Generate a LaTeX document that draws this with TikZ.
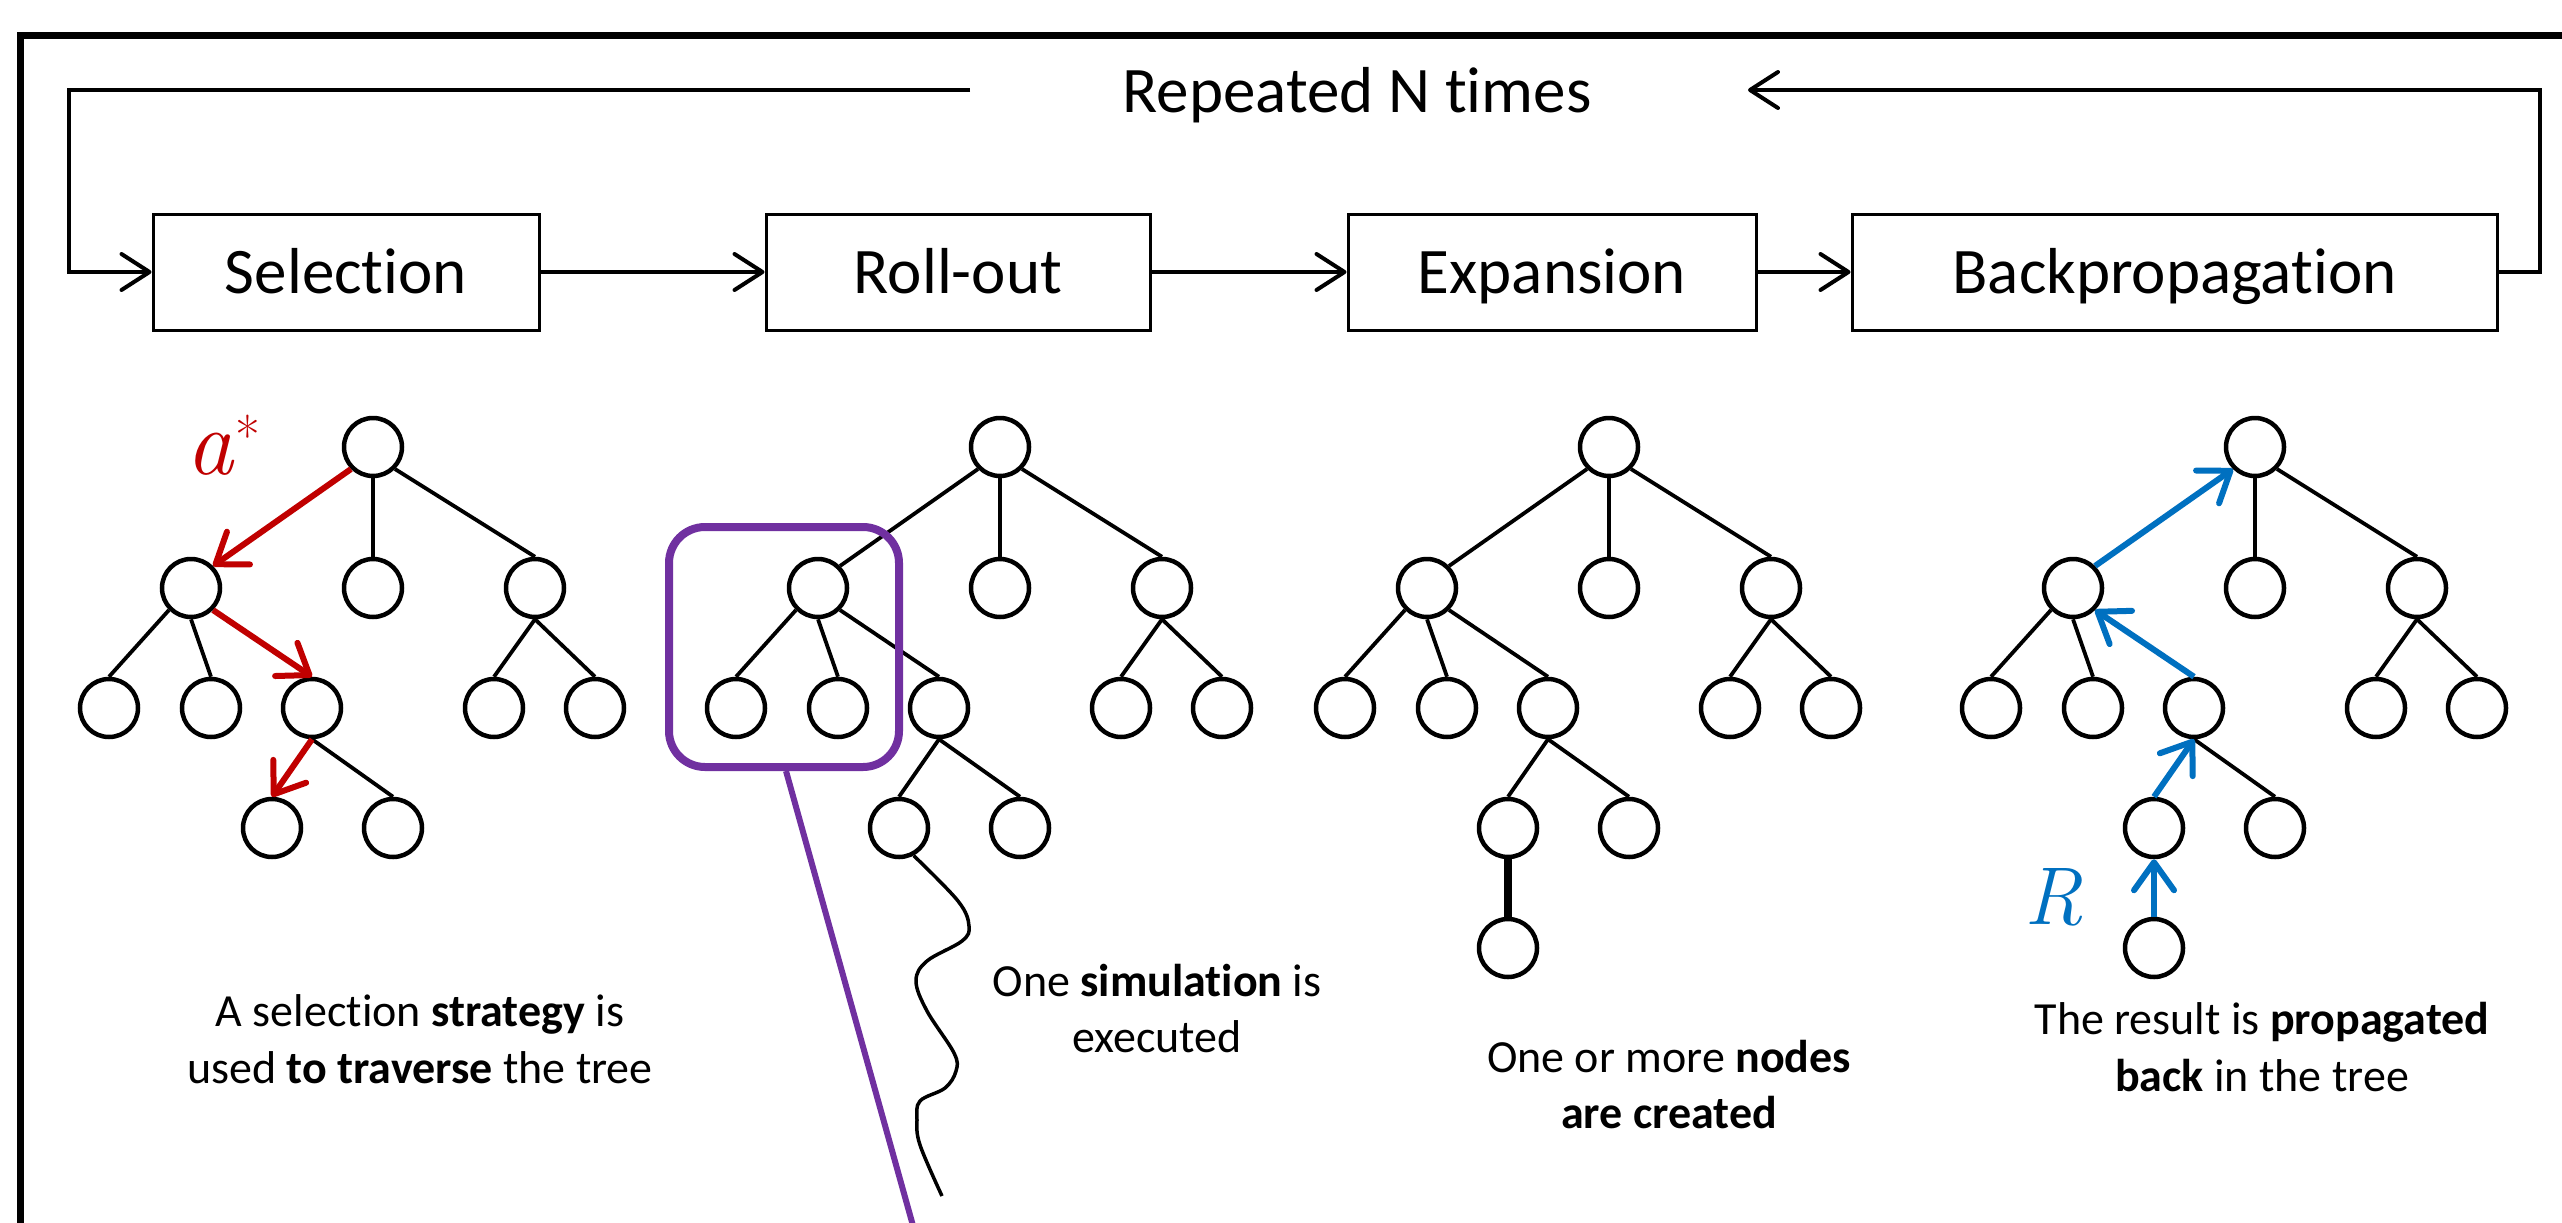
\documentclass[tikz,border=0pt]{standalone}
\usepackage{fontspec}
\setmainfont{Carlito}[Ligatures=NoCommon]
\newfontfamily\lmserif{Latin Modern Roman}
\usetikzlibrary{arrows.meta,calc}
\definecolor{mred}{HTML}{C00000}
\definecolor{mblue}{HTML}{0070C0}
\definecolor{mpurple}{HTML}{7030A0}
\newcommand\stagefont{\fontsize{65}{78}\selectfont}
\newcommand\descfont{\fontsize{46}{56}\selectfont}
\tikzset{
  tn/.style={circle, draw, line width=4.5pt, minimum size=58pt, inner sep=0pt, fill=white},
  edge/.style={line width=3.8pt},
  stagebox/.style={draw, line width=3pt, minimum height=116pt, inner sep=0pt,
     text height=42pt, text depth=0pt, font=\stagefont},
  openhead/.tip={Straight Barb[length=28pt,width=36pt,round]},
  flow/.style={line width=4pt, -{openhead}},
  redarr/.style={draw=mred, line width=6pt, -{Straight Barb[length=28pt,width=40pt,round]}},
  bluearr/.style={draw=mblue, line width=6pt, -{Straight Barb[length=28pt,width=40pt,round]}},
  desc/.style={anchor=base, inner sep=0pt, font=\descfont},
}
\newcommand\mctstree[2]{%
  \node[tn] (#1r) at (#2,447) {};
  \node[tn] (#1a) at (#2-182,588) {};
  \node[tn] (#1b) at (#2,588) {};
  \node[tn] (#1c) at (#2+162,588) {};
  \node[tn] (#1aa) at (#2-264,708) {};
  \node[tn] (#1ab) at (#2-162,708) {};
  \node[tn] (#1ac) at (#2-61,708) {};
  \node[tn] (#1ca) at (#2+121,708) {};
  \node[tn] (#1cb) at (#2+222,708) {};
  \node[tn] (#1aca) at (#2-101,828) {};
  \node[tn] (#1acb) at (#2+20,828) {};
  \draw[edge] (#1r.south) -- (#1b.north);
  \draw[edge] (#1r.south east) -- (#1c.north);
  \draw[edge] (#1a.south west) -- (#1aa.north);
  \draw[edge] (#1a.south) -- (#1ab.north);
  \draw[edge] (#1c.south) -- (#1ca.north);
  \draw[edge] (#1c.south) -- (#1cb.north);
  \draw[edge] (#1ac.south) -- (#1acb.north);
}
\begin{document}
\begin{tikzpicture}[x=1pt, y=-1pt]
\useasboundingbox[fill=white] (0,0) rectangle (2562,1223);
% outer frame
\draw[line width=7pt] (20,1240) -- (20,36) -- (2580,36);

% stage boxes
\node[stagebox, minimum width=386pt] (sel) at (346,272) {Selection};
\node[stagebox, minimum width=384pt] (roll) at (958,272) {Roll-out};
\node[stagebox, minimum width=408pt] (exp) at (1552,272) {Expansion};
\node[stagebox, minimum width=645pt] (back) at (2174.5,272) {Backpropagation};

\draw[flow] (sel.east) -- (roll.west);
\draw[flow] (roll.east) -- (exp.west);
\draw[flow] (exp.east) -- (back.west);

% repeat loop
\node[anchor=base, inner sep=0pt, font=\stagefont] (rep) at (1357,112) {Repeated N times};
\coordinate (loopL) at (970,90);
\coordinate (loopR) at (1748,90);
\draw[flow] (loopL) -- (69,90) |- (sel.west);
\draw[flow] (back.east) -| (2540,90) -- (loopR);

% ---- tree 1: selection
\mctstree{t1}{373}
\draw[redarr] (t1r.south west) -- (t1a.north east);
\draw[redarr] (t1a.south east) -- (t1ac.north);
\draw[redarr] (t1ac.south) -- (t1aca.north);
\node[anchor=base west, inner sep=0pt, text=mred] (astar) at (186,474)
  {\lmserif\itshape\fontsize{94}{100}\selectfont a\hspace{2pt}\raisebox{0.2em}{\upshape\fontsize{54}{54}\selectfont *}};
\node[desc] (d1a) at (420,1026) {A selection \textbf{strategy} is};
\node[desc] (d1b) at (420,1083) {used \textbf{to traverse} the tree};

% ---- tree 2: roll-out
\mctstree{t2}{1000}
\draw[edge] (t2r.south west) -- (t2a.north east);
\draw[edge] (t2a.south east) -- (t2ac.north);
\draw[edge] (t2ac.south) -- (t2aca.north);
\draw[line width=3.5pt] plot[smooth, tension=0.6] coordinates {(t2aca.-62) (958,901) (969,926) (962,941) (927,961) (916,981) (927,1011) (954,1053) (956,1071) (945,1088) (920,1101) (917,1120) (920,1145) (942,1196)};
\node[draw=mpurple, line width=8pt, rounded corners=36pt, minimum width=230pt, minimum height=240pt, inner sep=0pt] (zoombox) at (784,647) {};
\coordinate (zoomend) at (917,1240);
\draw[mpurple, line width=6pt] ($(zoombox.south)+(2,0)$) -- (zoomend);
\node[desc] (d2a) at (1157,996) {One \textbf{simulation} is};
\node[desc] (d2b) at (1157,1052) {executed};

% ---- tree 3: expansion
\mctstree{t3}{1609}
\draw[edge] (t3r.south west) -- (t3a.north east);
\draw[edge] (t3a.south east) -- (t3ac.north);
\draw[edge] (t3ac.south) -- (t3aca.north);
\node[tn] (t3l5) at (1508,948) {};
\draw[line width=8pt] (t3aca.south) -- (t3l5.north);
\node[desc] (d3a) at (1669,1072) {One or more \textbf{nodes}};
\node[desc] (d3b) at (1669,1128) {\textbf{are created}};

% ---- tree 4: backpropagation
\mctstree{t4}{2255}
\node[tn] (t4l5) at (2154,948) {};
\draw[bluearr] (t4a.north east) -- (t4r.south west);
\draw[bluearr] (t4ac.north) -- (t4a.south east);
\draw[bluearr] (t4aca.north) -- (t4ac.south);
\draw[bluearr] (t4l5.north) -- (t4aca.south);
\node[anchor=base west, inner sep=0pt, text=mblue] (rlab) at (2024,924)
  {\lmserif\itshape\fontsize{82}{96}\selectfont R};
\node[desc] (d4a) at (2262,1034) {The result is \textbf{propagated}};
\node[desc] (d4b) at (2262,1091) {\textbf{back} in the tree};
\end{tikzpicture}
\end{document}
